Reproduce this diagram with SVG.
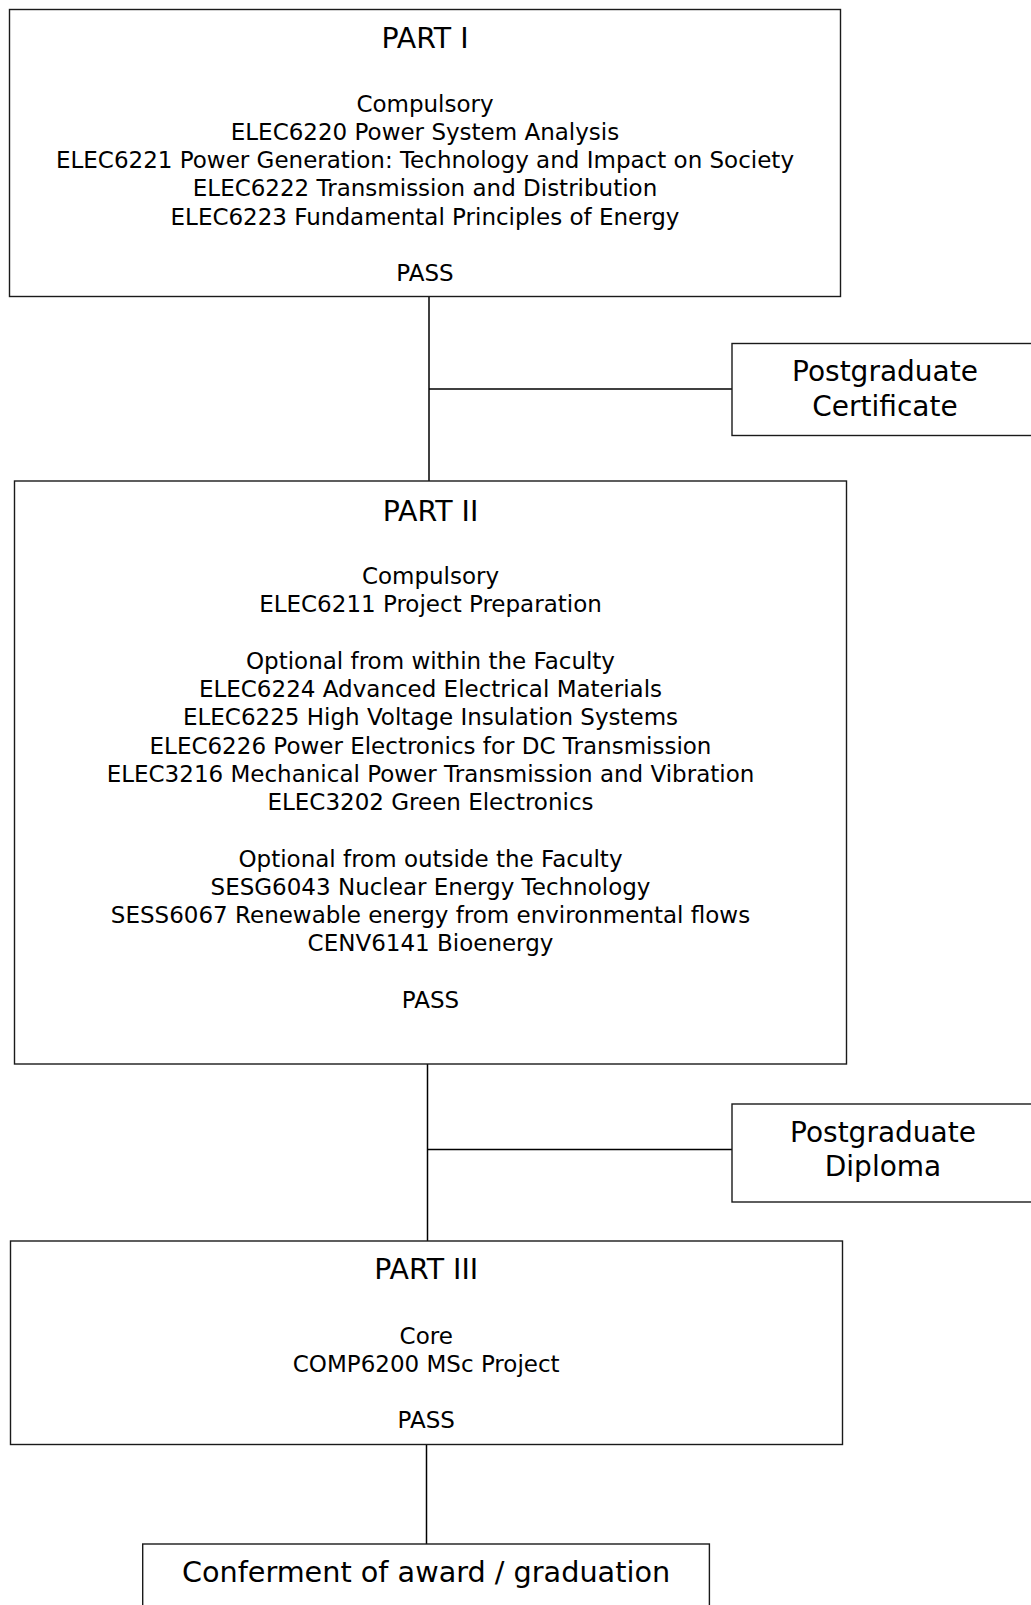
<svg xmlns="http://www.w3.org/2000/svg" width="1031" height="1605" viewBox="0 0 1031 1605">
<style>
.box{fill:#fff;stroke:#1a1a1a;stroke-width:1.4}
.ln{stroke:#000;stroke-width:1.5;fill:none}
text{font-family:"DejaVu Sans","Liberation Sans",sans-serif;fill:#000;text-anchor:middle}
.t{font-size:28px}
.b{font-size:23px}
</style>
<rect width="1031" height="1605" fill="#fff"/>
<g id="connectors">
<line class="ln" x1="429" y1="297" x2="429" y2="481"/>
<line class="ln" x1="429" y1="389" x2="732" y2="389"/>
<line class="ln" x1="427.5" y1="1064" x2="427.5" y2="1241"/>
<line class="ln" x1="427.5" y1="1149.5" x2="732" y2="1149.5"/>
<line class="ln" x1="426.5" y1="1444.5" x2="426.5" y2="1544"/>
</g>
<g id="part1">
<rect class="box" x="9.5" y="9.5" width="831" height="287"/>
<text class="t" x="425" y="47.7" style="font-size:28.4px">PART I</text>
<text class="b" x="425" y="111.7">Compulsory</text>
<text class="b" x="425" y="140">ELEC6220 Power System Analysis</text>
<text class="b" x="425" y="168.2">ELEC6221 Power Generation: Technology and Impact on Society</text>
<text class="b" x="425" y="196.4">ELEC6222 Transmission and Distribution</text>
<text class="b" x="425" y="224.6">ELEC6223 Fundamental Principles of Energy</text>
<text class="b" x="425" y="281">PASS</text>
</g>
<g id="cert">
<rect class="box" x="732" y="343.5" width="310" height="92"/>
<text class="t" x="885" y="381">Postgraduate</text>
<text class="t" x="885" y="416">Certificate</text>
</g>
<g id="part2">
<rect class="box" x="14.5" y="481" width="832" height="583"/>
<text class="t" x="430.5" y="520.7" style="font-size:28.4px">PART II</text>
<text class="b" x="430.5" y="584">Compulsory</text>
<text class="b" x="430.5" y="612.25">ELEC6211 Project Preparation</text>
<text class="b" x="430.5" y="668.75">Optional from within the Faculty</text>
<text class="b" x="430.5" y="697">ELEC6224 Advanced Electrical Materials</text>
<text class="b" x="430.5" y="725.25">ELEC6225 High Voltage Insulation Systems</text>
<text class="b" x="430.5" y="753.5">ELEC6226 Power Electronics for DC Transmission</text>
<text class="b" x="430.5" y="781.75">ELEC3216 Mechanical Power Transmission and Vibration</text>
<text class="b" x="430.5" y="810">ELEC3202 Green Electronics</text>
<text class="b" x="430.5" y="866.5">Optional from outside the Faculty</text>
<text class="b" x="430.5" y="894.75">SESG6043 Nuclear Energy Technology</text>
<text class="b" x="430.5" y="923">SESS6067 Renewable energy from environmental flows</text>
<text class="b" x="430.5" y="951.25">CENV6141 Bioenergy</text>
<text class="b" x="430.5" y="1007.75">PASS</text>
</g>
<g id="diploma">
<rect class="box" x="732" y="1104" width="310" height="98"/>
<text class="t" x="883" y="1142">Postgraduate</text>
<text class="t" x="883" y="1176">Diploma</text>
</g>
<g id="part3">
<rect class="box" x="10.5" y="1241" width="832" height="203.5"/>
<text class="t" x="426.2" y="1279" style="font-size:28.4px">PART III</text>
<text class="b" x="426.2" y="1344">Core</text>
<text class="b" x="426.2" y="1371.7">COMP6200 MSc Project</text>
<text class="b" x="426.2" y="1428.3">PASS</text>
</g>
<g id="award">
<rect class="box" x="142.7" y="1544" width="566.7" height="80"/>
<text class="t" x="426" y="1581.7" style="font-size:28.7px">Conferment of award / graduation</text>
</g>
</svg>
